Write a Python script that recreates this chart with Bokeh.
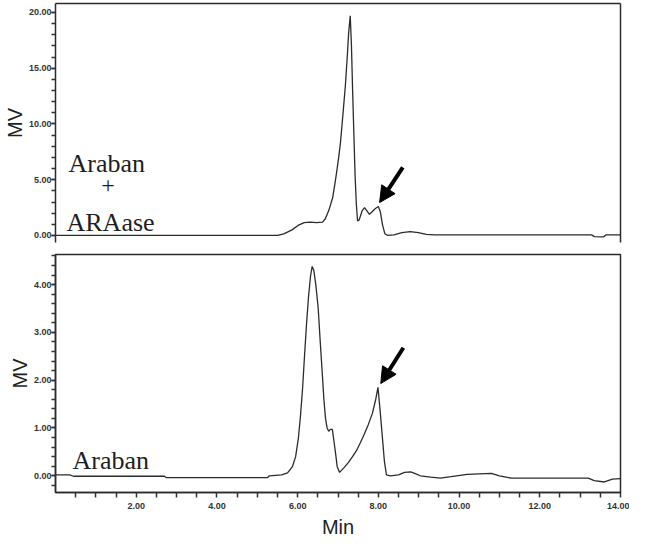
from bokeh.plotting import figure
from bokeh.layouts import column
from bokeh.models import (Range1d, LinearAxis, SingleIntervalTicker, FixedTicker,
                          PrintfTickFormatter, Label, Arrow, NormalHead)
from bokeh.embed import file_html
from bokeh.resources import INLINE

# ---- data ----
top_t = [0.00, 5.45, 5.60, 5.80, 5.95, 6.10, 6.25, 6.40, 6.55, 6.62, 6.71, 6.80,
         6.87, 6.94, 6.99, 7.05, 7.11, 7.16, 7.19, 7.23, 7.26, 7.29, 7.32, 7.35,
         7.38, 7.41, 7.45, 7.52, 7.58, 7.64, 7.70, 7.76, 7.84, 7.92, 7.97, 8.02,
         8.08, 8.15, 8.30, 8.50, 8.70, 8.90, 9.10, 9.30, 11.00, 13.15, 13.22,
         13.45, 13.50, 13.86]
top_mv = [0.00, 0.00, 0.15, 0.50, 0.90, 1.15, 1.20, 1.15, 1.20, 1.50, 2.30, 3.40,
          5.00, 6.80, 8.30, 10.80, 13.40, 16.20, 18.10, 19.70, 17.00, 12.80, 9.00, 5.30,
          2.80, 1.30, 1.40, 2.20, 2.50, 2.20, 1.90, 2.10, 2.40, 2.60, 2.10, 1.00,
          0.15, 0.00, 0.05, 0.25, 0.35, 0.25, 0.10, 0.05, 0.05, 0.05, -0.10,
          -0.12, 0.05, 0.05]

bot_t = [0.00, 0.35, 0.45, 2.70, 2.75, 5.25, 5.30, 5.60, 5.75, 5.87, 5.95, 6.02,
         6.07, 6.12, 6.17, 6.22, 6.27, 6.32, 6.36, 6.40, 6.45, 6.51, 6.56, 6.61,
         6.65, 6.69, 6.73, 6.77, 6.81, 6.86, 6.91, 6.95, 6.98, 7.04, 7.15, 7.26,
         7.36, 7.46, 7.56, 7.65, 7.75, 7.85, 7.93, 7.99, 8.04, 8.10, 8.15, 8.20,
         8.30, 8.50, 8.65, 8.80, 8.90, 9.04, 9.30, 9.54, 9.80, 9.94, 10.20, 10.50,
         10.80, 11.00, 11.30, 13.20, 13.35, 13.60, 13.80, 14.00]
bot_mv = [0.02, 0.02, -0.01, -0.01, -0.04, -0.04, 0.00, 0.02, 0.06, 0.19, 0.40, 0.80,
          1.25, 1.80, 2.50, 3.17, 3.75, 4.18, 4.38, 4.30, 4.00, 3.50, 2.80, 2.15,
          1.60, 1.20, 1.00, 0.93, 0.97, 0.97, 0.66, 0.40, 0.19, 0.07, 0.17, 0.28,
          0.40, 0.53, 0.70, 0.87, 1.07, 1.30, 1.58, 1.85, 1.40, 0.80, 0.30, 0.02,
          0.00, 0.02, 0.07, 0.08, 0.05, 0.00, -0.03, -0.05, -0.02, 0.00, 0.03, 0.04,
          0.05, 0.00, -0.05, -0.05, -0.10, -0.13, -0.07, -0.06]

x_major_ticks = [2, 4, 6, 8, 10, 12, 14]
x_minor_ticks = [0.5, 1.0, 1.5, 2.5, 3.0, 3.5, 4.5, 5.0, 5.5, 6.5, 7.0, 7.5,
                 8.5, 9.0, 9.5, 10.5, 11.0, 11.5, 12.5, 13.0, 13.5]
top_y_interval = 5
bot_y_interval = 1

INK = "#2b2b2b"
TICK = "#333333"
TEXT = "#1e1e1e"
SANS = "Liberation Sans"
SERIF = "Liberation Serif"


def style_yaxis(ax, interval):
    ax.ticker = SingleIntervalTicker(interval=interval, num_minor_ticks=5)
    ax.formatter = PrintfTickFormatter(format="%.2f")
    ax.axis_label = "MV"
    ax.axis_label_text_font = SANS
    ax.axis_label_text_font_size = "20px"
    ax.axis_label_text_font_style = "normal"
    ax.axis_label_text_color = TEXT
    ax.axis_label_standoff = 0
    ax.major_label_text_font = SANS
    ax.major_label_text_font_size = "9px"
    ax.major_label_text_font_style = "bold"
    ax.major_label_text_color = "#333333"
    ax.major_label_standoff = 0
    ax.major_tick_out = 4
    ax.major_tick_in = 0
    ax.minor_tick_out = 4
    ax.minor_tick_in = 0
    ax.axis_line_color = INK
    ax.axis_line_width = 1.5
    ax.major_tick_line_color = TICK
    ax.minor_tick_line_color = TICK
    ax.major_tick_line_width = 1.5
    ax.minor_tick_line_width = 1.5


def plain_axis():
    return LinearAxis(ticker=FixedTicker(ticks=[]), axis_line_color=INK,
                      axis_line_width=1.5, major_label_text_font_size="0px",
                      major_tick_line_color=None, minor_tick_line_color=None)


# ---------------- top panel ----------------
p1 = figure(width=629, height=248, output_backend="svg", toolbar_location=None,
            x_range=Range1d(0, 13.86), y_range=Range1d(-0.63, 20.8),
            min_border_left=49, min_border_right=9, min_border_top=3,
            min_border_bottom=6, x_axis_location=None)
p1.outline_line_color = None
p1.xgrid.visible = False
p1.ygrid.visible = False
style_yaxis(p1.yaxis[0], top_y_interval)
p1.add_layout(plain_axis(), "above")
p1.add_layout(plain_axis(), "right")
p1.line(top_t, top_mv, line_color=INK, line_width=1.3)

p1.add_layout(Label(x=0.32, y=6.45, text="Araban", text_font=SERIF,
                    text_font_size="26px", text_color=TEXT,
                    text_baseline="alphabetic"))
p1.add_layout(Label(x=1.29, y=4.5, text="+", text_font=SERIF,
                    text_font_size="24px", text_color=TEXT,
                    text_align="center", text_baseline="middle"))
p1.add_layout(Label(x=0.27, y=1.15, text="ARAase", text_font=SERIF,
                    text_font_size="26px", text_color=TEXT,
                    text_baseline="alphabetic"))
p1.add_layout(Arrow(end=NormalHead(size=16, fill_color="black", line_color="black"),
                    x_start=8.52, y_start=6.1, x_end=7.95, y_end=2.95,
                    line_width=4, line_color="black"))

# ---------------- bottom panel ----------------
p2 = figure(width=629, height=292, output_backend="svg", toolbar_location=None,
            x_range=Range1d(0, 14), y_range=Range1d(-0.35, 4.63),
            min_border_left=49, min_border_right=4, min_border_top=6,
            min_border_bottom=41)
p2.outline_line_color = INK
p2.outline_line_width = 1.5
p2.xgrid.visible = False
p2.ygrid.visible = False
style_yaxis(p2.yaxis[0], bot_y_interval)
xa = p2.xaxis[0]
xa.ticker = FixedTicker(ticks=x_major_ticks, minor_ticks=x_minor_ticks)
xa.formatter = PrintfTickFormatter(format="%.2f")
xa.axis_label = "Min"
xa.axis_label_text_font = SANS
xa.axis_label_text_font_size = "20px"
xa.axis_label_text_font_style = "normal"
xa.axis_label_text_color = TEXT
xa.axis_label_standoff = 4
xa.major_label_text_font = SANS
xa.major_label_text_font_size = "9px"
xa.major_label_text_font_style = "bold"
xa.major_label_text_color = "#333333"
xa.major_label_standoff = 5
xa.major_tick_out = 5
xa.major_tick_in = 0
xa.minor_tick_out = 5
xa.minor_tick_in = 0
xa.axis_line_color = INK
xa.axis_line_width = 1.5
xa.major_tick_line_color = TICK
xa.minor_tick_line_color = TICK
xa.major_tick_line_width = 1.5
xa.minor_tick_line_width = 1.5

p2.line(bot_t, bot_mv, line_color=INK, line_width=1.3)
p2.add_layout(Label(x=0.42, y=0.33, text="Araban", text_font=SERIF,
                    text_font_size="26px", text_color=TEXT,
                    text_baseline="alphabetic"))
p2.add_layout(Arrow(end=NormalHead(size=16, fill_color="black", line_color="black"),
                    x_start=8.62, y_start=2.68, x_end=8.06, y_end=1.93,
                    line_width=4, line_color="black"))

layout = column(p1, p2, spacing=0)
open("out.html", "w").write(file_html(layout, INLINE))
